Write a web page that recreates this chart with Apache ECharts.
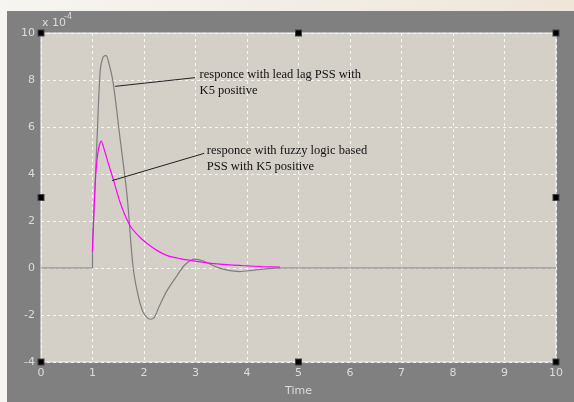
<!DOCTYPE html>
<html><head><meta charset="utf-8">
<script src="https://cdn.jsdelivr.net/npm/echarts@6/dist/echarts.min.js"></script>
<style>
html,body{margin:0;padding:0;width:574px;height:402px;overflow:hidden;background:linear-gradient(90deg,#f7f5f1 0%,#f1ece4 60%,#efe6da 100%);}
#c{position:absolute;left:7px;top:11px;width:567px;height:391px;}
</style></head><body><div id="c"></div>
<script>
// Data (values in units of 1e-4)
const leadLagX = [0, 1.0, 1.0, 1.04, 1.09, 1.15, 1.2, 1.26, 1.32, 1.4, 1.53, 1.67, 1.79, 1.9, 2.0, 2.12, 2.2, 2.31, 2.45, 2.64, 2.8, 2.99, 3.15, 3.4, 3.6, 3.86, 4.1, 4.4, 4.7, 10];
const leadLagY = [0, 0, 0.75, 3.0, 5.6, 8.4, 8.95, 9.05, 8.7, 7.9, 5.6, 3.1, 0, -1.3, -1.95, -2.18, -2.1, -1.56, -0.95, -0.33, 0.15, 0.38, 0.3, 0.05, -0.08, -0.15, -0.1, -0.03, 0, 0];
const fuzzyX = [1.0, 1.03, 1.07, 1.12, 1.17, 1.22, 1.3, 1.4, 1.55, 1.73, 1.9, 2.06, 2.25, 2.44, 2.7, 3.02, 3.3, 3.67, 4.0, 4.3, 4.64];
const fuzzyY = [0.7, 2.5, 4.2, 5.1, 5.4, 5.1, 4.5, 3.8, 2.7, 1.8, 1.35, 1.04, 0.75, 0.54, 0.4, 0.28, 0.2, 0.13, 0.09, 0.06, 0.04];
const xTicks = ['0','1','2','3','4','5','6','7','8','9','10'];
const yTicks = ['-4','-2','0','2','4','6','8','10'];
const note1 = ['responce with lead lag PSS with', 'K5 positive'];
const note2 = ['responce with fuzzy logic based', 'PSS with K5 positive'];
const note1Line = [[1.44, 7.73], [2.99, 8.10]];
const note2Line = [[1.38, 3.72], [3.17, 4.88]];
const note1Pos = [3.08, 8.55];
const note2Pos = [3.22, 5.35];

const chart = echarts.init(document.getElementById('c'), null, {renderer:'canvas'});
const pairs = (xs, ys) => xs.map((x, i) => [x, ys[i]]);
const labelColor = '#dcdcdc';
const option = {
  backgroundColor: '#808080',
  animation: false,
  grid: {left: 34, top: 22, width: 515, height: 339, show: true, backgroundColor: '#d4d0c8', borderColor: '#f4f4f4', borderWidth: 1},
  xAxis: {
    type: 'value', min: 0, max: 10, interval: 1,
    name: 'Time', nameLocation: 'middle', nameGap: 24,
    nameTextStyle: {color: labelColor, fontFamily: 'DejaVu Sans', fontSize: 11},
    axisLine: {show: false}, axisTick: {show: false},
    axisLabel: {color: labelColor, fontFamily: 'DejaVu Sans', fontSize: 11, margin: 6,
      formatter: v => xTicks[Math.round(v)]},
    splitLine: {show: true, lineStyle: {color: '#f6f6f6', type: [3, 3], width: 1}}
  },
  yAxis: {
    type: 'value', min: -4, max: 10, interval: 2,
    axisLine: {show: false}, axisTick: {show: false},
    axisLabel: {color: labelColor, fontFamily: 'DejaVu Sans', fontSize: 11, margin: 6,
      formatter: v => yTicks[Math.round((v + 4) / 2)]},
    splitLine: {show: true, lineStyle: {color: '#f6f6f6', type: [3, 3], width: 1}}
  },
  series: [
    {type: 'line', data: pairs(leadLagX, leadLagY), showSymbol: false, smooth: 0.3,
      lineStyle: {color: '#7e7e7e', width: 1.2}, z: 3,
      markLine: {silent: true, symbol: 'none', label: {show: false},
        lineStyle: {color: '#202020', width: 1, type: 'solid'},
        data: [[{coord: note1Line[0]}, {coord: note1Line[1]}], [{coord: note2Line[0]}, {coord: note2Line[1]}]]}},
    {type: 'line', data: pairs(fuzzyX, fuzzyY), showSymbol: false, smooth: 0.3,
      lineStyle: {color: '#ff00ff', width: 1.2}, z: 4}
  ]
};
chart.setOption(option);

function px(p) { return chart.convertToPixel({gridIndex: 0}, p); }
const graphics = [];
const textStyle = {fontFamily: 'Liberation Serif', fontSize: 12.5, fill: '#111', lineHeight: 16};
[[note1, note1Pos], [note2, note2Pos]].forEach(([lines, pos]) => {
  const p = px(pos);
  graphics.push({type: 'text', x: p[0], y: p[1], style: Object.assign({text: lines.join('\n'), textVerticalAlign: 'top'}, textStyle), z: 10});
});
// exponent label
const tl = px([0, 10]);
graphics.push({type: 'text', x: tl[0] + 1, y: tl[1] - 15, style: {text: 'x 10', fontFamily: 'DejaVu Sans', fontSize: 11, fill: labelColor}, z: 10});
graphics.push({type: 'text', x: tl[0] + 23, y: tl[1] - 20, style: {text: '-4', fontFamily: 'DejaVu Sans', fontSize: 8, fill: labelColor}, z: 10});
// selection handles
[0, 5, 10].forEach(x => [-4, 3, 10].forEach(y => {
  if (x === 5 && y === 3) return;
  const p = px([x, y]);
  graphics.push({type: 'rect', shape: {x: p[0] - 3.5, y: p[1] - 3.5, width: 7, height: 7}, style: {fill: '#404040'}, z: 20});
  graphics.push({type: 'rect', shape: {x: p[0] - 2.5, y: p[1] - 2.5, width: 5, height: 5}, style: {fill: '#000'}, z: 21});
}));
chart.setOption({graphic: graphics});
</script></body></html>
